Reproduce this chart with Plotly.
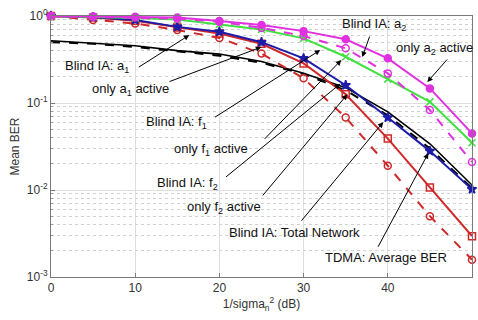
import plotly.graph_objects as go

snr_db = [0, 5, 10, 15, 20, 25, 30, 35, 40, 45, 50]

only_a2 = [1.0, 0.99, 0.98, 0.96, 0.875, 0.79, 0.67, 0.54, 0.326, 0.147, 0.0447]
blind_a2 = [1.0, 0.98, 0.96, 0.93, 0.86, 0.73, 0.59, 0.425, 0.219, 0.083, 0.021]
green_curve = [1.0, 0.98, 0.95, 0.91, 0.80, 0.70, 0.553, 0.34, 0.188, 0.103, 0.035]
blue_curve = [1.0, 0.97, 0.90, 0.75, 0.66, 0.50, 0.326, 0.16, 0.068, 0.028, 0.0102]
red_solid = [1.0, 0.96, 0.88, 0.74, 0.63, 0.48, 0.285, 0.126, 0.039, 0.0107, 0.00295]
red_dashed = [1.0, 0.90, 0.82, 0.69, 0.56, 0.37, 0.192, 0.068, 0.019, 0.005, 0.00158]
black_solid = [0.52, 0.49, 0.455, 0.40, 0.365, 0.30, 0.22, 0.15, 0.079, 0.034, 0.0114]
black_dashed = [0.50, 0.48, 0.44, 0.39, 0.35, 0.29, 0.215, 0.14, 0.072, 0.030, 0.0105]

y_tickvals = [1e-3, 1e-2, 1e-1, 1]
y_ticktext = ["10<sup>-3</sup>", "10<sup>-2</sup>", "10<sup>-1</sup>", "10<sup>0</sup>"]
x_tickvals = [0, 10, 20, 30, 40, 50]

MAG = "#e030e0"
RED = "#d02828"
BLUE = "#1c1ca8"
GREEN = "#40e040"
FONT = "Liberation Sans, Arial, sans-serif"

fig = go.Figure()

def add(y, color, dash, symbol, width=2, msize=7):
    fig.add_trace(go.Scatter(
        x=snr_db, y=y, mode="lines+markers" if symbol else "lines",
        line=dict(color=color, width=width, dash=dash),
        marker=dict(symbol=symbol or "circle", size=msize, color=color,
                    line=dict(color=color, width=1.5)),
        showlegend=False, cliponaxis=False))

add(black_dashed, "black", "dash", None, width=2)
add(black_solid, "black", "solid", None, width=1.6)
add(red_dashed, RED, "dash", "circle-open", width=2)
add(red_solid, RED, "solid", "square-open", width=2)
add(blue_curve, BLUE, "solid", "star", width=2, msize=7)
add(green_curve, GREEN, "solid", "x-thin-open", width=2)
add(blind_a2, MAG, "dash", "circle-open", width=2)
add(only_a2, MAG, "solid", "circle", width=2)

# text labels (x in dB, y in log10 units)
labels = [
    ("Blind IA: a<sub>1</sub>", 1.4, -0.58),
    ("only a<sub>1</sub> active", 4.6, -0.85),
    ("Blind IA: f<sub>1</sub>", 11.1, -1.22),
    ("only f<sub>1</sub> active", 14.4, -1.53),
    ("Blind IA: f<sub>2</sub>", 12.4, -1.93),
    ("only f<sub>2</sub> active", 15.9, -2.20),
    ("Blind IA: Total Network", 20.9, -2.49),
    ("TDMA: Average BER", 32.3, -2.78),
    ("Blind IA: a<sub>2</sub>", 34.3, -0.10),
    ("only a<sub>2</sub> active", 40.7, -0.37),
]
for txt, x, y in labels:
    fig.add_annotation(x=x, y=y, text=txt, showarrow=False, xanchor="left",
                       yanchor="middle", font=dict(family=FONT, size=13, color="#111"))

# arrows: (tail x, tail y, head x, head y)
arrows = [
    (10.25, -0.598, 16.43, -0.219),
    (13.9, -0.76, 24.98, -0.357),
    (19.3, -1.174, 31.98, -0.391),
    (25.2, -1.43, 34.48, -0.506),
    (20.6, -1.864, 34.36, -0.78),
    (25.0, -2.08, 35.2, -0.90),
    (29.6, -2.37, 39.46, -1.22),
    (38.75, -2.67, 44.81, -1.577),
    (37.9, -0.219, 36.97, -0.472),
    (47.2, -0.483, 44.69, -0.76),
]
for tx, ty, hx, hy in arrows:
    fig.add_annotation(x=hx, y=hy, ax=tx, ay=ty, xref="x", yref="y",
                       axref="x", ayref="y", text="", showarrow=True,
                       arrowhead=2, arrowsize=1.1, arrowwidth=1, arrowcolor="black")

minor_vals = [m * 10 ** e for e in (-3, -2, -1) for m in range(2, 10)]

fig.update_layout(
    width=478, height=320,
    margin=dict(l=51, r=6, t=16, b=43),
    paper_bgcolor="white", plot_bgcolor="white",
    font=dict(family=FONT, size=12, color="#333"),
)
fig.update_xaxes(
    range=[0, 50], tickmode="array", tickvals=x_tickvals, automargin=False,
    showgrid=True, gridcolor="#dedede", gridwidth=1,
    showline=True, linecolor="#7a7a7a", mirror=True,
    ticks="inside", ticklen=4, tickcolor="#7a7a7a",
    tickfont=dict(size=12, color="#333"), zeroline=False,
    title=dict(text="1/sigma<sub>n</sub><sup>2</sup> (dB)", font=dict(size=12, color="#333"), standoff=4),
)
fig.update_yaxes(
    type="log", range=[-3, 0], tickmode="array", tickvals=y_tickvals, ticktext=y_ticktext,
    automargin=False,
    showgrid=True, gridcolor="#dedede", gridwidth=1,
    minor=dict(tickmode="array", tickvals=minor_vals, showgrid=True,
               gridcolor="#d0d0d0", griddash="dot", ticks="inside", ticklen=2, tickcolor="#9a9a9a"),
    showline=True, linecolor="#7a7a7a", mirror=True,
    ticks="inside", ticklen=4, tickcolor="#7a7a7a",
    tickfont=dict(size=12, color="#333"), zeroline=False,
    title=dict(text="Mean BER", font=dict(size=12, color="#333"), standoff=4),
)

fig.write_html("out.html", config={"displayModeBar": False},
               post_script="document.body.style.margin='0px';")
